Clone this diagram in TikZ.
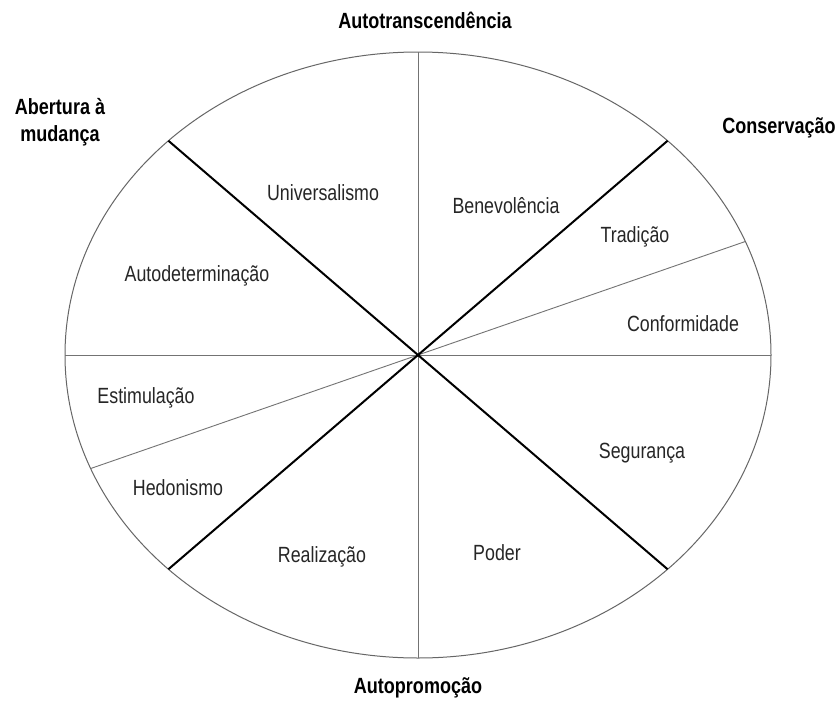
\documentclass[tikz,border=0pt]{standalone}
\usepackage{fontspec}
\setmainfont{Liberation Sans}
\newfontfamily\lblfont{Liberation Sans}[FakeStretch=0.81]
\newfontfamily\hdrfont{Liberation Sans Bold}[FakeStretch=0.82]
\begin{document}
\begin{tikzpicture}[x=1pt,y=-1pt,
  rim/.style={draw=black!60,line width=1pt},
  thinline/.style={draw=black!55,line width=0.9pt},
  boldline/.style={draw=black,line width=2pt},
  lbl/.style={inner sep=0pt,text=black!85,font=\lblfont\fontsize{22}{24}\selectfont},
  hdr/.style={inner sep=0pt,text=black,align=center,font=\hdrfont\fontsize{22}{27}\selectfont}]
\useasboundingbox (0,0) rectangle (839,702);
\fill[white] (0,0) rectangle (839,702);
\def\cx{418}\def\cy{355}\def\rx{353}\def\ry{303}
\coordinate (c) at (\cx,\cy);
\foreach \n/\t in {p0/0,p22/22,p45/45,p90/90,p135/135,p180/180,p202/202,p225/225,p270/270,p315/315}
  \coordinate (\n) at ({\cx+\rx*cos(\t)},{\cy-\ry*sin(\t)});
\draw[rim] (c) ellipse [x radius=\rx, y radius=\ry];
\draw[thinline] (c) -- (p0);
\draw[thinline] (c) -- (p180);
\draw[thinline] (c) -- (p90);
\draw[thinline] (c) -- (p270);
\draw[thinline] (c) -- (p22);
\draw[thinline] (c) -- (p202);
\draw[boldline] (c) -- (p45);
\draw[boldline] (c) -- (p135);
\draw[boldline] (c) -- (p225);
\draw[boldline] (c) -- (p315);
% headings
\node[hdr] (h1) at (425,20) {Autotranscendência};
\node[hdr] (h2) at (60,122) {Abertura à\\mudança};
\node[hdr] (h3) at (779,128) {Conservação};
\node[hdr] (h4) at (418,688) {Autopromoção};
% sector labels
\node[lbl] (s1) at (323,193) {Universalismo};
\node[lbl] (s2) at (506,206) {Benevolência};
\node[lbl] (s3) at (635,237) {Tradição};
\node[lbl] (s4) at (683,324) {Conformidade};
\node[lbl] (s5) at (197,276) {Autodeterminação};
\node[lbl] (s6) at (146,398) {Estimulação};
\node[lbl] (s7) at (178,488) {Hedonismo};
\node[lbl] (s8) at (322,557) {Realização};
\node[lbl] (s9) at (497,553) {Poder};
\node[lbl] (s10) at (642,453) {Segurança};
\end{tikzpicture}
\end{document}
